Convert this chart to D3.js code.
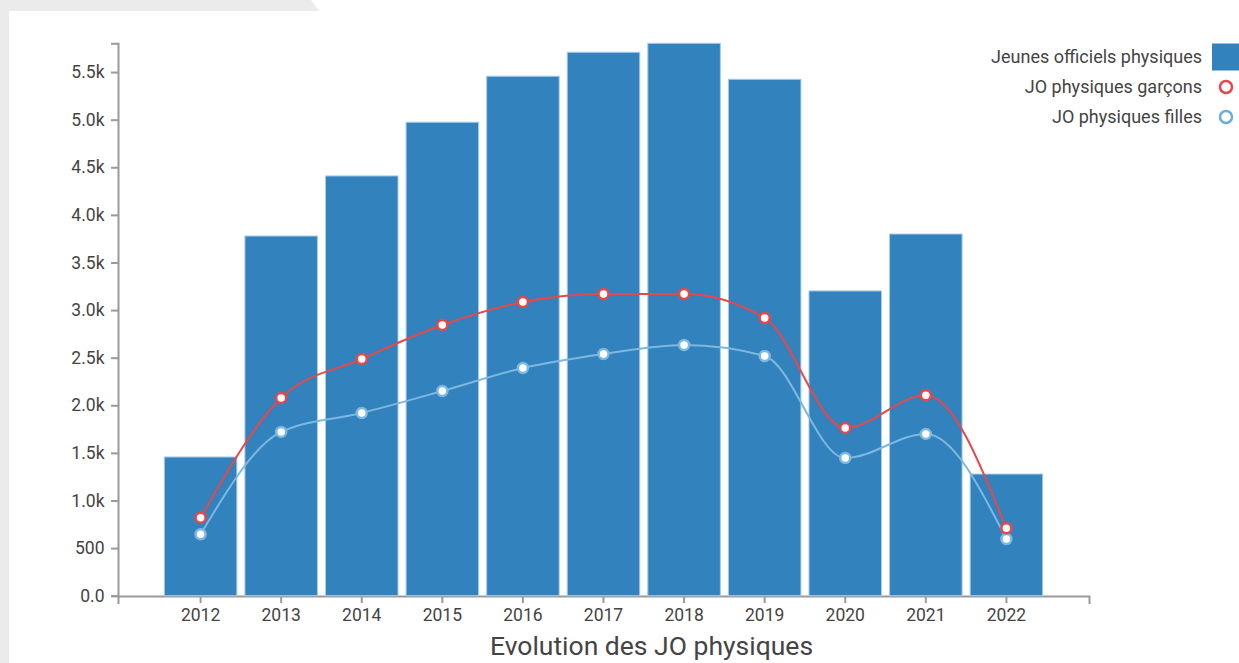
<!DOCTYPE html>
<html>
<head>
<meta charset="utf-8">
<script src="https://cdn.jsdelivr.net/npm/d3@7"></script>
<style>
    body { margin: 0; background: #fff; font-family: Roboto, "Open Sans", sans-serif; }
    .axis path, .axis line { stroke: #9a9a9a; stroke-width: 2px; }
    .axis text { fill: #444; font-size: 17.5px; font-family: Roboto, sans-serif; }
</style>
</head>
<body>
<div id="chart"></div>
<script>
// data
var years = ["2012", "2013", "2014", "2015", "2016", "2017", "2018", "2019", "2020", "2021", "2022"];
var jeunesOfficiels = [1457, 3778, 4409, 4973, 5456, 5708, 5802, 5424, 3201, 3799, 1278];
var garcons = [820, 2077, 2486, 2843, 3085, 3169, 3169, 2917, 1762, 2105, 708];
var filles = [645, 1720, 1919, 2150, 2392, 2539, 2633, 2518, 1446, 1699, 596];
var yTicks = [0, 500, 1000, 1500, 2000, 2500, 3000, 3500, 4000, 4500, 5000, 5500];
var legendLabels = ["Jeunes officiels physiques", "JO physiques garçons", "JO physiques filles"];

var W = 1239, H = 663;
var barColor = "#3182bd", redColor = "#e8474a", blueColor = "#7db8e0";

var svg = d3.select("#chart")
        .append("svg")
        .attr("width", W)
        .attr("height", H);

// grey page background behind the white panel
svg.append("polygon")
        .attr("points", "0,0 311,0 319,11 9,11 9," + H + " 0," + H)
        .style("fill", "#ebebeb");

// scales
var x = d3.scaleBand()
        .domain(years)
        .range([118, 1089])
        .paddingInner(0.1)
        .paddingOuter(0.575);

var y = d3.scaleLinear()
        .domain([0, d3.max(jeunesOfficiels)])
        .range([595.7, 43.3]);

function fmt(d) {
    if (d === 0) return "0.0";
    if (d < 1000) return d;
    return (d / 1000).toFixed(1) + "k";
}

// axes
svg.append("g")
        .attr("class", "axis")
        .attr("transform", "translate(118,0)")
        .call(d3.axisLeft(y).tickValues(yTicks).tickFormat(fmt).tickSize(7).tickSizeOuter(7))
        .selectAll("text").attr("dx", "-3.5");

svg.append("g")
        .attr("class", "axis")
        .attr("transform", "translate(0,596)")
        .call(d3.axisBottom(x).tickSize(7).tickSizeOuter(8))
        .selectAll("text").attr("dy", "0.85em");

// bars
svg.selectAll(".bar")
        .data(jeunesOfficiels)
        .enter()
        .append("rect")
        .attr("class", "bar")
        .attr("x", function (d, i) { return x(years[i]); })
        .attr("y", function (d) { return y(d); })
        .attr("width", x.bandwidth())
        .attr("height", function (d) { return y(0) - y(d); })
        .style("fill", barColor)
        .style("stroke", "#a9cbe8")
        .style("stroke-width", 1);

// lines + points
var line = d3.line()
        .x(function (d, i) { return x(years[i]) + x.bandwidth() / 2; })
        .y(function (d) { return y(d); })
        .curve(d3.curveMonotoneX);

[[filles, blueColor], [garcons, redColor]].forEach(function (s) {
    svg.append("path")
            .datum(s[0])
            .attr("d", line)
            .style("fill", "none")
            .style("stroke", s[1])
            .style("stroke-width", 2);

    svg.selectAll(null)
            .data(s[0])
            .enter()
            .append("circle")
            .attr("cx", function (d, i) { return x(years[i]) + x.bandwidth() / 2; })
            .attr("cy", function (d) { return y(d); })
            .attr("r", 5)
            .style("fill", "#fff")
            .style("stroke", s[1])
            .style("stroke-width", 2.5);
});

// legend
var legend = svg.append("g");
legendLabels.forEach(function (lab, i) {
    var cy = 57 + i * 30;
    legend.append("text")
            .attr("x", 1202)
            .attr("y", cy)
            .attr("dy", "0.35em")
            .attr("text-anchor", "end")
            .style("font-size", "18px")
            .style("fill", "#444")
            .text(lab);
    if (i === 0) {
        legend.append("rect")
                .attr("x", 1212).attr("y", cy - 13.5)
                .attr("width", 27).attr("height", 27)
                .style("fill", barColor);
    } else {
        legend.append("circle")
                .attr("cx", 1226).attr("cy", cy)
                .attr("r", 6)
                .style("fill", "#fff")
                .style("stroke", i === 1 ? redColor : "#6baed6")
                .style("stroke-width", 2.5);
    }
});

// title
svg.append("text")
        .attr("x", 651.5)
        .attr("y", 655)
        .attr("text-anchor", "middle")
        .style("font-size", "26.5px")
        .style("fill", "#444")
        .text("Evolution des JO physiques");
</script>
</body>
</html>
